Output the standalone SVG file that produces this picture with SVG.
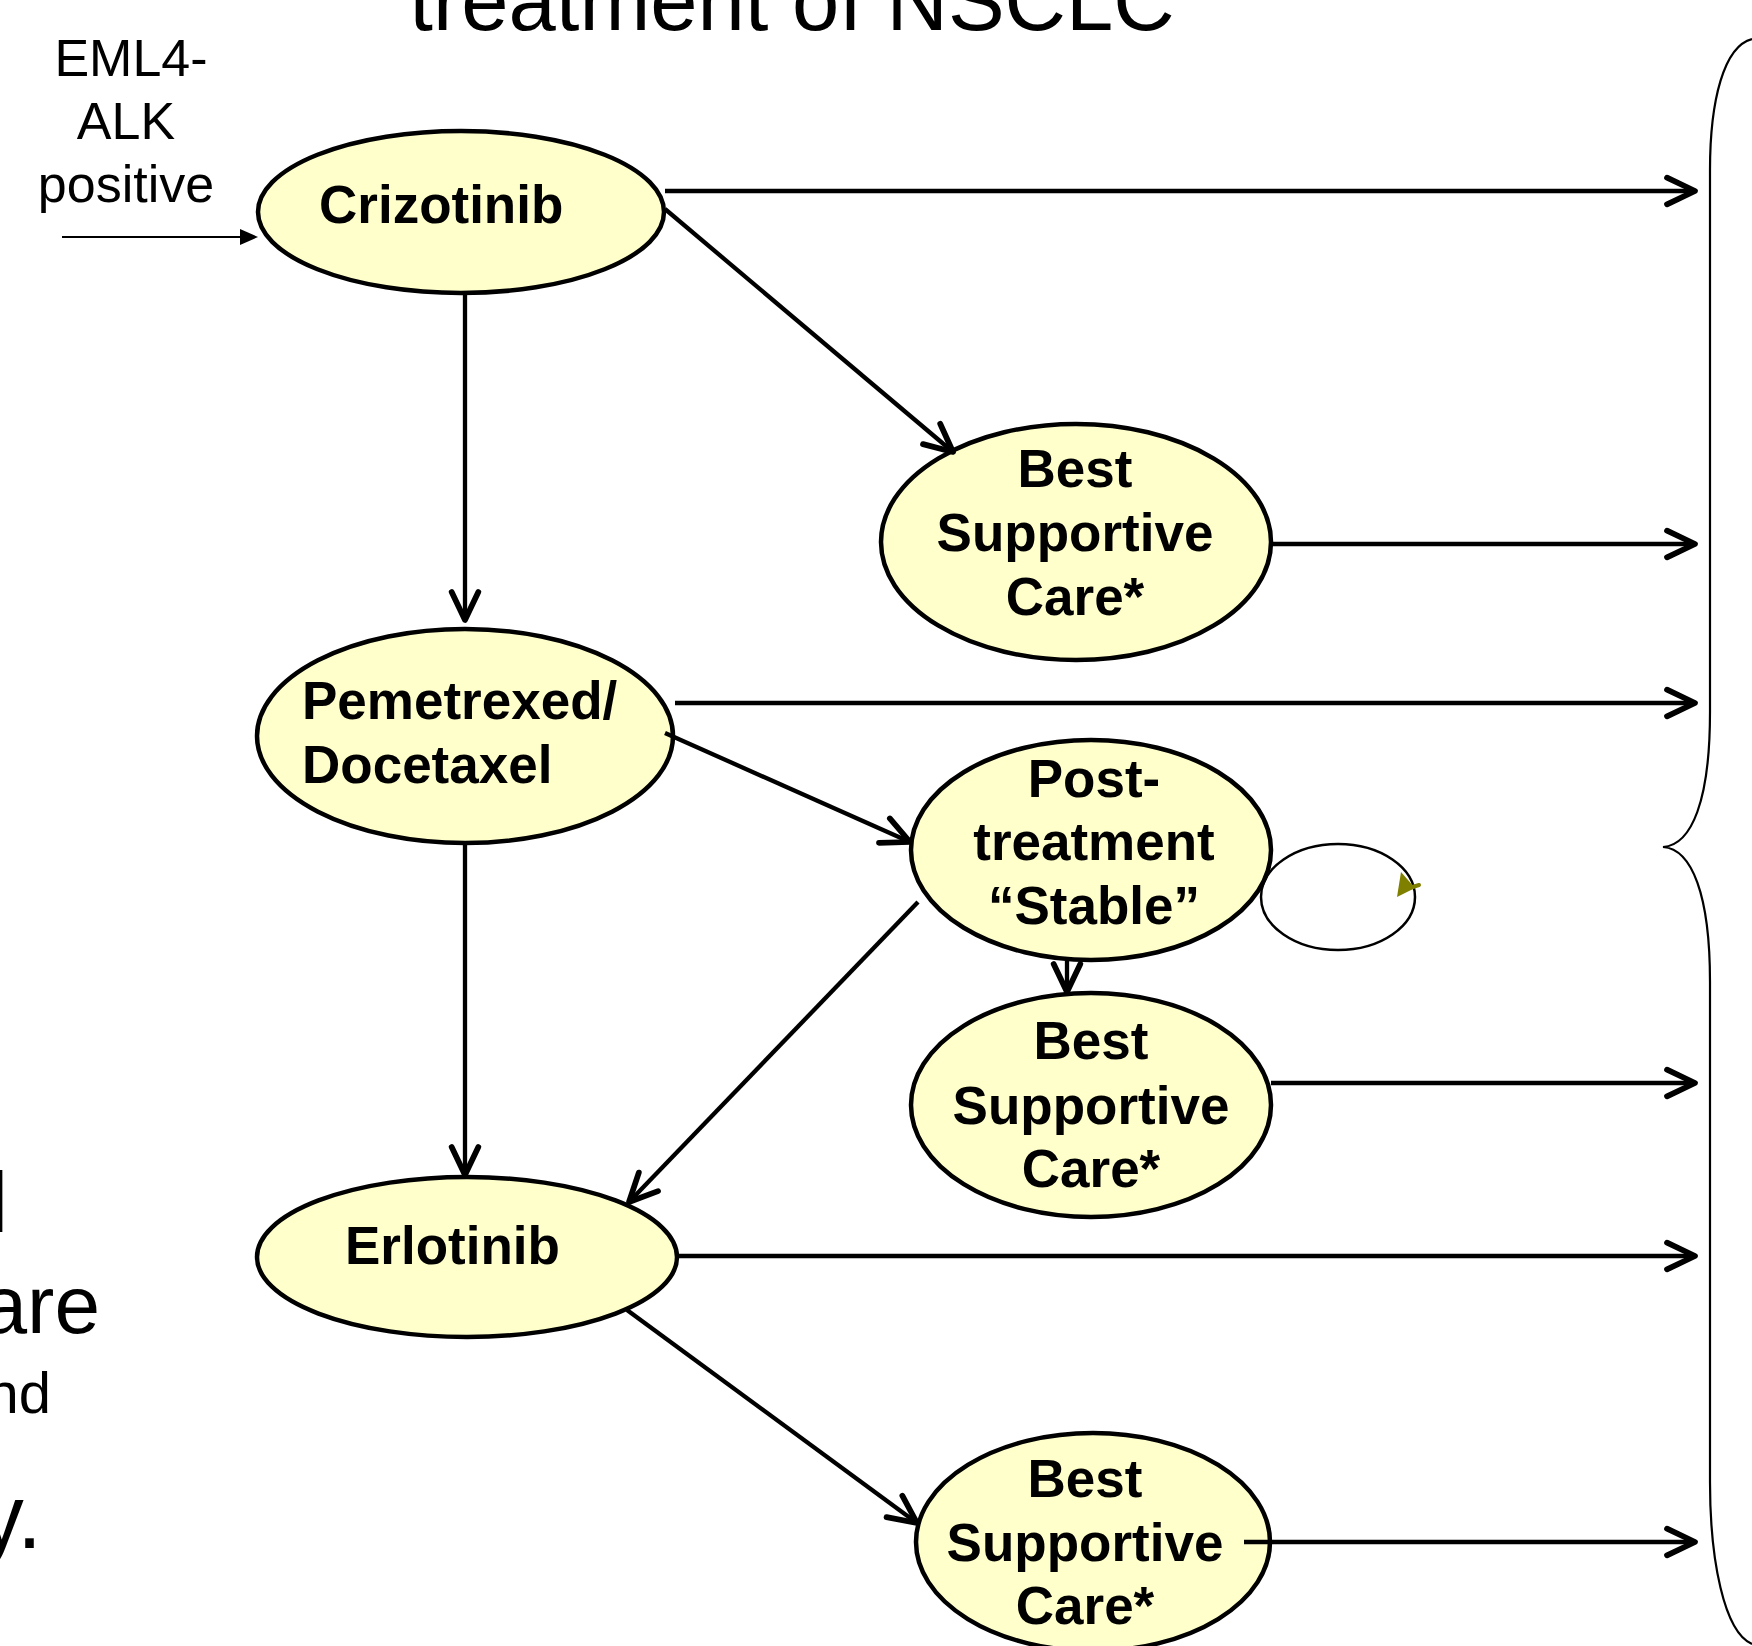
<svg xmlns="http://www.w3.org/2000/svg" width="1752" height="1646" viewBox="0 0 1752 1646">
<style>
.node{fill:#FFFFCC;stroke:#000;stroke-width:4.5}
.lbl{font-family:"Liberation Sans",Arial,sans-serif;font-weight:bold;font-size:53px;fill:#000}
.plain{font-family:"Liberation Sans",Arial,sans-serif;fill:#000}
.conn{stroke:#000;stroke-width:4.3;fill:none}
</style>
<defs>
<marker id="oa" markerUnits="userSpaceOnUse" markerWidth="40" markerHeight="40" viewBox="-26 -15 30 30" refX="0" refY="0" orient="auto" overflow="visible">
<path d="M-21,-10 L0,0 L-21,10" fill="none" stroke="#000" stroke-width="4.3" stroke-linejoin="round" stroke-linecap="round"/>
</marker>
</defs>
<rect width="1752" height="1646" fill="#fff"/>

<g id="title">
<text class="plain" x="792" y="30" font-size="85" text-anchor="middle">treatment of NSCLC</text>
</g>

<g id="left-fragments">
<text class="plain" x="8" y="1232" font-size="86" text-anchor="end">l</text>
<text class="plain" x="100" y="1333" font-size="82" text-anchor="end">are</text>
<text class="plain" x="51" y="1413" font-size="58" text-anchor="end">nd</text>
<text class="plain" x="42" y="1548" font-size="90" text-anchor="end">y.</text>
</g>

<g id="eml4-label">
<text class="plain" font-size="52" text-anchor="middle"><tspan x="131" y="76">EML4-</tspan><tspan x="126" y="139">ALK</tspan><tspan x="126" y="202">positive</tspan></text>
</g>

<g id="node-crizotinib">
<ellipse class="node" cx="461" cy="212" rx="203" ry="81"/>
<text class="lbl" x="319" y="223">Crizotinib</text>
</g>

<g id="node-bsc1">
<ellipse class="node" cx="1076" cy="542" rx="195" ry="118"/>
<text class="lbl" text-anchor="middle"><tspan x="1075" y="487">Best</tspan><tspan x="1075" y="551">Supportive</tspan><tspan x="1075" y="615">Care*</tspan></text>
</g>

<g id="node-pemetrexed">
<ellipse class="node" cx="465" cy="736" rx="208" ry="107"/>
<text class="lbl"><tspan x="302" y="719">Pemetrexed/</tspan><tspan x="302" y="783">Docetaxel</tspan></text>
</g>

<g id="node-post">
<ellipse class="node" cx="1091" cy="850" rx="180" ry="110"/>
<text class="lbl" text-anchor="middle"><tspan x="1094" y="797">Post-</tspan><tspan x="1094" y="860">treatment</tspan><tspan x="1094" y="924">“Stable”</tspan></text>
</g>

<g id="node-bsc2">
<ellipse class="node" cx="1091" cy="1105" rx="180" ry="112"/>
<text class="lbl" text-anchor="middle"><tspan x="1091" y="1059">Best</tspan><tspan x="1091" y="1124">Supportive</tspan><tspan x="1091" y="1187">Care*</tspan></text>
</g>

<g id="node-erlotinib">
<ellipse class="node" cx="467" cy="1257" rx="210" ry="80"/>
<text class="lbl" x="345" y="1264">Erlotinib</text>
</g>

<g id="node-bsc3">
<ellipse class="node" cx="1093" cy="1542" rx="177" ry="109"/>
<text class="lbl" text-anchor="middle"><tspan x="1085" y="1497">Best</tspan><tspan x="1085" y="1561">Supportive</tspan><tspan x="1085" y="1624">Care*</tspan></text>
</g>

<g id="connectors">
<line x1="62" y1="237" x2="242" y2="237" stroke="#000" stroke-width="2.2"/>
<polygon points="240,229 258,237 240,245" fill="#000"/>
<line class="conn" x1="665" y1="191" x2="1695" y2="191" marker-end="url(#oa)"/>
<line class="conn" x1="665" y1="209" x2="953" y2="452" marker-end="url(#oa)"/>
<line class="conn" x1="465" y1="295" x2="465" y2="620" marker-end="url(#oa)"/>
<line class="conn" x1="1270" y1="544" x2="1695" y2="544" marker-end="url(#oa)"/>
<line class="conn" x1="675" y1="703" x2="1695" y2="703" marker-end="url(#oa)"/>
<line class="conn" x1="665" y1="733" x2="910" y2="842" marker-end="url(#oa)"/>
<line class="conn" x1="465" y1="844" x2="465" y2="1175" marker-end="url(#oa)"/>
<line class="conn" x1="1067" y1="961" x2="1067" y2="992" marker-end="url(#oa)"/>
<line class="conn" x1="918" y1="902" x2="629" y2="1202" marker-end="url(#oa)"/>
<line class="conn" x1="1271" y1="1083" x2="1695" y2="1083" marker-end="url(#oa)"/>
<line class="conn" x1="677" y1="1256" x2="1695" y2="1256" marker-end="url(#oa)"/>
<line class="conn" x1="627" y1="1310" x2="917" y2="1523" marker-end="url(#oa)"/>
<line class="conn" x1="1244" y1="1542" x2="1695" y2="1542" marker-end="url(#oa)"/>
<ellipse cx="1338" cy="897" rx="77" ry="53" fill="none" stroke="#000" stroke-width="2.5"/>
<polygon points="1401,872 1397,897 1415,888" fill="#808000"/>
<line x1="1406" y1="889" x2="1419" y2="885" stroke="#808000" stroke-width="4" stroke-linecap="round"/>
</g>

<g id="brace">
<path d="M1752,39 C1724,46 1710,100 1710,170 L1710,712 C1710,800 1692,845 1663,847 C1692,849 1710,895 1710,982 L1710,1482 C1710,1560 1724,1632 1752,1644" fill="none" stroke="#000" stroke-width="2.2"/>
</g>
</svg>
